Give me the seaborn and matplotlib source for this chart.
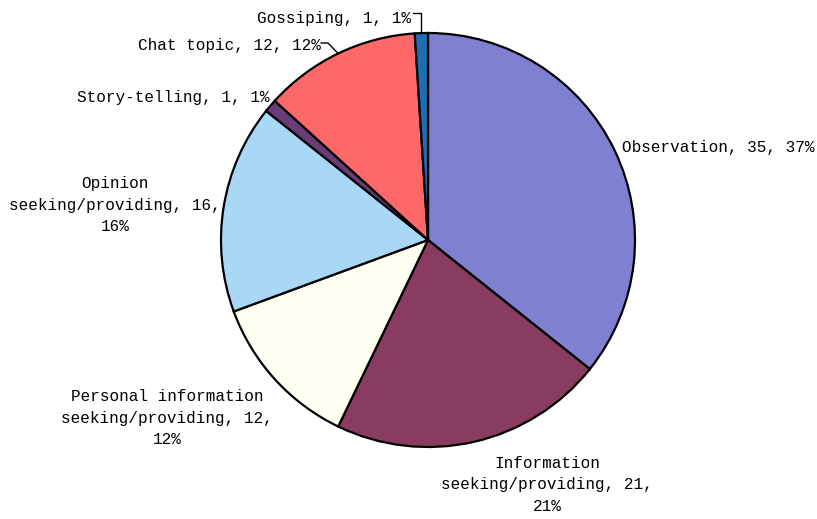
import numpy as np
import matplotlib
matplotlib.use("Agg")
import matplotlib.pyplot as plt
import seaborn as sns

# Conversation categories and counts
categories = [
    "Observation",
    "Information\nseeking/providing",
    "Personal information\nseeking/providing",
    "Opinion\nseeking/providing",
    "Story-telling",
    "Chat topic",
    "Gossiping",
]
counts = [35, 21, 12, 16, 1, 12, 1]
percents = [37, 21, 12, 16, 1, 12, 1]

colors = ["#8080d2", "#8a3b60", "#fffff2", "#a8d8f6", "#6a3c78", "#fe6868", "#1f6db2"]

# Label anchor points (pixel positions on an 817x519 canvas)
label_px = [(718, 147), (547, 485), (167, 418), (115, 205), (173, 97), (229, 45), (334, 18)]
label_text = [
    "Observation, 35, 37%",
    "Information\nseeking/providing, 21,\n21%",
    "Personal information\nseeking/providing, 12,\n12%",
    "Opinion\nseeking/providing, 16,\n16%",
    "Story-telling, 1, 1%",
    "Chat topic, 12, 12%",
    "Gossiping, 1, 1%",
]

sns.set_theme(style="white")
plt.rcParams["font.family"] = ["Liberation Mono", "DejaVu Sans Mono"]

W, H = 817, 519
cx, cy, R = 428, 240, 207

fig = plt.figure(figsize=(W / 100, H / 100), dpi=100)
ax = fig.add_axes([0, 0, 1, 1])


def to_data(px, py):
    return (px - cx) / R, (cy - py) / R


wedges, _ = ax.pie(
    counts,
    colors=colors,
    startangle=90,
    counterclock=False,
    radius=1.0,
    wedgeprops=dict(edgecolor="black", linewidth=1.6),
)

ax.set_xlim(-cx / R, (W - cx) / R)
ax.set_ylim(-(H - cy) / R, cy / R)
ax.set_aspect("equal")
ax.axis("off")

for (px, py), txt in zip(label_px, label_text):
    x, y = to_data(px, py)
    ax.text(x, y, txt, ha="center", va="center", multialignment="center",
            fontsize=11.5, linespacing=1.55, color="black")

# Leader lines for the small top slices
def wedge_edge_point(w):
    ang = np.deg2rad((w.theta1 + w.theta2) / 2)
    return np.cos(ang), np.sin(ang)

# Gossiping
gx, gy = wedge_edge_point(wedges[6])
x0, y0 = to_data(413, 13)
ax.plot([x0, gx, gx], [y0, y0, gy], color="black", lw=1.0)

# Chat topic
tx, ty = wedge_edge_point(wedges[5])
x1, y1 = to_data(321, 43)
x2, _ = to_data(328, 43)
ax.plot([x1, x2, tx], [y1, y1, ty], color="black", lw=1.0)

fig.savefig("out.png", dpi=100)
